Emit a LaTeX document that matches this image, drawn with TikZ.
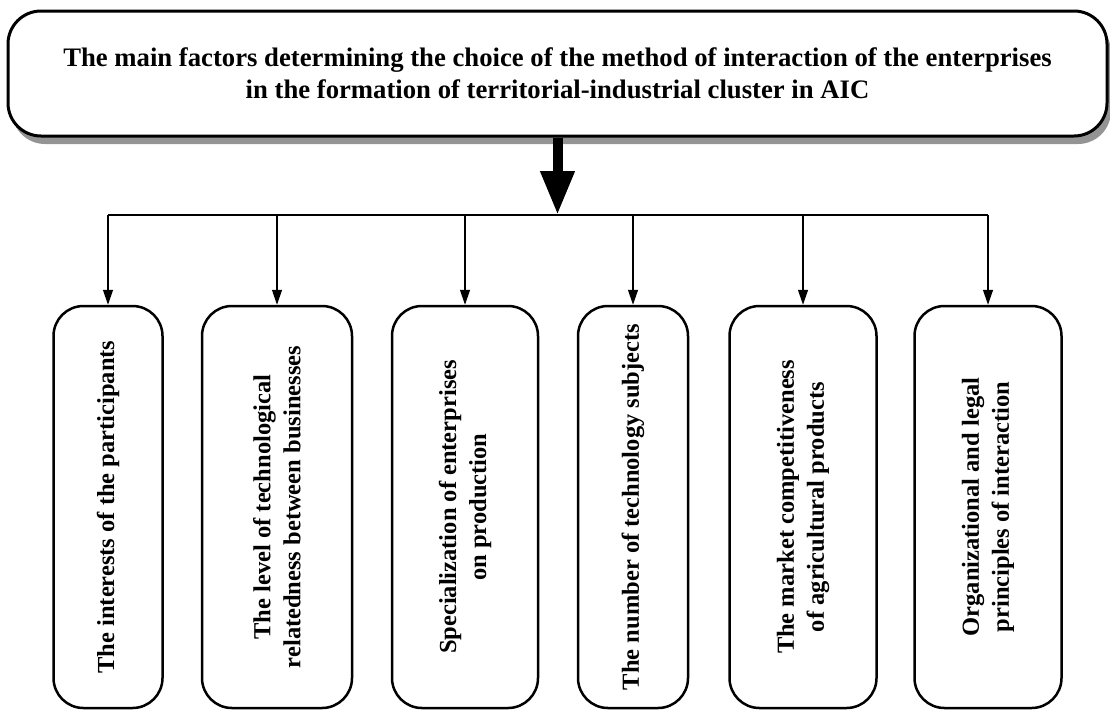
\documentclass[tikz,border=0pt]{standalone}
\usepackage{fontspec}
\setmainfont{Liberation Serif}
\usetikzlibrary{arrows.meta,shadows}
\tikzset{
	headbox/.style={draw, line width=3pt, rounded corners=33pt, fill=white, minimum width=1099pt, minimum height=125pt, align=center, font=\fontsize{26.7}{32}\selectfont\bfseries, drop shadow={shadow xshift=4pt, shadow yshift=-8pt, fill=black!42, opacity=1}},
	factor/.style={draw, line width=2.5pt, rounded corners=30pt, rotate=90, minimum width=402pt, minimum height=#1, inner sep=0pt, align=center, font=\fontsize{24.5}{30}\selectfont\bfseries},
	link/.style={line width=1.3pt, -{Triangle[length=15pt,width=10pt]}}
}
\begin{document}
\begin{tikzpicture}[x=1pt,y=-1pt]
	\useasboundingbox (0,0) rectangle (1110,710);
	\node[headbox] (title) at (557.5,73.5) {The main factors determining the choice of the method of interaction of the enterprises\\in the formation of territorial-industrial cluster in AIC};
	\coordinate (bus) at (557.5,215);
	\draw[line width=10pt, -{Triangle[length=44pt,width=32pt]}] (title.south) -- (bus);
	\foreach \i/\x/\w/\txt in {
		1/108/109pt/{The interests of the participants},
		2/277/150pt/{The level of technological\\relatedness between businesses},
		3/465/146pt/{Specialization of enterprises\\on production},
		4/633/110pt/{The number of technology subjects},
		5/803/147pt/{The market competitiveness\\of agricultural products},
		6/988/147pt/{Organizational and legal\\principles of interaction}}
	{
		\node[factor=\w] (f\i) at (\x,507) {\txt};
		\draw[link] (f\i.east |- bus) -- (f\i.east);
	}
	\draw[line width=1.3pt] (f1.east |- bus) -- (f6.east |- bus);
\end{tikzpicture}
\end{document}
